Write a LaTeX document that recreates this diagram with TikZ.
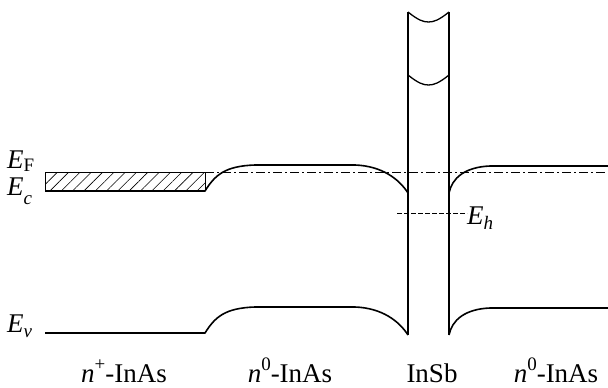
\documentclass[tikz,border=0pt]{standalone}
\usepackage{fontspec}
\setmainfont{Liberation Serif}
\usetikzlibrary{patterns.meta}
\newcommand\lsub[2][5pt]{\raisebox{-#1}{\fontsize{19}{20}\selectfont #2}}
\newcommand\lsup[1]{\raisebox{0.42em}{\fontsize{19}{20}\selectfont #1}}
\begin{document}
\begin{tikzpicture}[x=1pt,y=-1pt,
  band/.style={line width=1.6pt,line join=round},
  wall/.style={line width=1.3pt},
  thin/.style={line width=0.8pt},
  lbl/.style={inner sep=0pt,font=\fontsize{27}{30}\selectfont},
  fermi/.style={line width=0.8pt,dash pattern=on 9pt off 3pt on 2pt off 3pt},
  hole/.style={line width=0.8pt,dash pattern=on 5pt off 2pt}]
\useasboundingbox (0,0) rectangle (608,388);
% hatched region
\fill[pattern={Lines[angle=45,distance=8pt,line width=0.6pt]}] (45,172) rectangle (205,191);
\draw[thin] (45,191) -- (45,172) -- (205,172) -- (205,191);
% Fermi level
\coordinate (ef0) at (205,172);
\coordinate (ef1) at (608,172);
\draw[fermi] (ef0) -- (ef1);
% conduction band
\draw[band] (45,191) -- (205,191) .. controls (215,175) and (225,166) .. (255,165)
  -- (355,165) .. controls (382,166) and (399,179) .. (408,193);
\draw[band] (449,193) .. controls (452,178) and (465,167) .. (490,166) -- (608,166);
% valence band
\draw[band] (45,333) -- (205,333) .. controls (215,317) and (225,308) .. (255,307)
  -- (355,307) .. controls (382,308) and (399,321) .. (408,335);
\draw[band] (449,335) .. controls (452,320) and (465,309) .. (490,308) -- (608,308);
% InSb walls
\draw[wall] (408,335) -- (408,12);
\draw[wall] (449,335) -- (449,12);
\draw[wall] (408,12) .. controls (418,20) and (423,22) .. (428.5,22) .. controls (434,22) and (439,20) .. (449,12);
\draw[wall] (408,75) .. controls (418,83) and (423,85) .. (428.5,85) .. controls (434,85) and (439,83) .. (449,75);
% hole level
\coordinate (eh0) at (397,213);
\node[lbl,anchor=base west] (eh) at (467,224) {\textit{E}\lsub[5pt]{\textit{h}}};
\draw[hole] (eh0) -- (eh.west|-eh0);
% left labels
\node[lbl,anchor=base west] (lef) at (7,168) {\textit{E}\lsub[3pt]{F}};
\node[lbl,anchor=base west] (lec) at (7,195) {\textit{E}\lsub[9pt]{\textit{c}}};
\node[lbl,anchor=base west] (lev) at (7,332) {\textit{E}\lsub[5pt]{\textit{v}}};
% bottom labels
\node[lbl,anchor=base] (l1) at (124,382) {\textit{n}\lsup{+}-InAs};
\node[lbl,anchor=base] (l2) at (290,382) {\textit{n}\lsup{0}-InAs};
\node[lbl,anchor=base] (l3) at (432,382) {InSb};
\node[lbl,anchor=base] (l4) at (556,382) {\textit{n}\lsup{0}-InAs};
\end{tikzpicture}
\end{document}
